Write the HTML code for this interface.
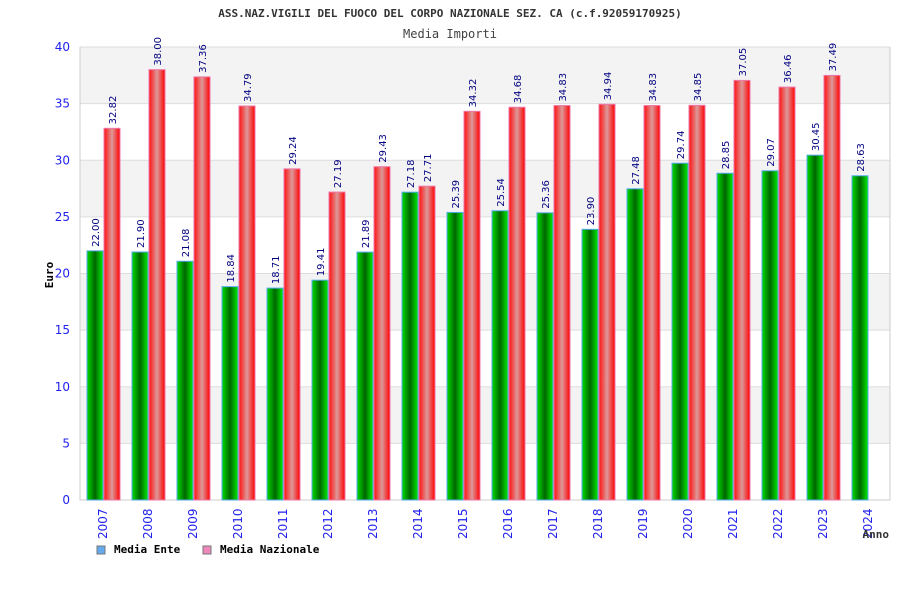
<!DOCTYPE html>
<html><head><meta charset="utf-8"><style>
body{margin:0;background:#fff;}
svg text{font-family:"DejaVu Sans Mono","Liberation Mono",monospace;}
svg text.s{font-family:"DejaVu Sans","Liberation Sans",sans-serif;}
</style></head><body>
<svg id="chart" width="900" height="600" xmlns="http://www.w3.org/2000/svg">
<defs>
<linearGradient id="gg" x1="0" x2="1" y1="0" y2="0">
<stop offset="0" stop-color="#00dd00"/><stop offset="0.5" stop-color="#006600"/><stop offset="1" stop-color="#00ee00"/></linearGradient>
<linearGradient id="rg" x1="0" x2="1" y1="0" y2="0">
<stop offset="0" stop-color="#ff1010"/><stop offset="0.5" stop-color="#dd9999"/><stop offset="1" stop-color="#ff0000"/></linearGradient>
</defs>
<text x="450" y="17" text-anchor="middle" font-size="11" font-weight="bold" fill="#333">ASS.NAZ.VIGILI DEL FUOCO DEL CORPO NAZIONALE SEZ. CA (c.f.92059170925)</text>
<text x="450" y="38" text-anchor="middle" font-size="12" fill="#444">Media Importi</text>
<g id="grid"></g>
<g id="bars"></g>
<text transform="translate(53,275) rotate(-90)" text-anchor="middle" font-size="11" font-weight="bold" fill="#000">Euro</text>
<text x="889" y="538" text-anchor="end" font-size="11" font-weight="bold" fill="#333">Anno</text>
<g>
<rect x="97" y="546" width="8" height="8" fill="#66aaee" stroke="#777"/>
<text x="114" y="553" font-size="11" font-weight="bold">Media Ente</text>
<rect x="203" y="546" width="8" height="8" fill="#ee88bb" stroke="#777"/>
<text x="220" y="553" font-size="11" font-weight="bold">Media Nazionale</text>
</g>
</svg>
<script>
const categories=["2007","2008","2009","2010","2011","2012","2013","2014","2015","2016","2017","2018","2019","2020","2021","2022","2023","2024"];
const enteValues=[22.00,21.90,21.08,18.84,18.71,19.41,21.89,27.18,25.39,25.54,25.36,23.90,27.48,29.74,28.85,29.07,30.45,28.63];
const nazValues=[32.82,38.00,37.36,34.79,29.24,27.19,29.43,27.71,34.32,34.68,34.83,34.94,34.83,34.85,37.05,36.46,37.49,null];
const yTicks=[0,5,10,15,20,25,30,35,40];
const NS="http://www.w3.org/2000/svg";
const L=80,R=890,T=47,B=500,yMax=40;
const gw=(R-L)/categories.length;
function y(v){return B-(v/yMax)*(B-T);}
function xg(i){return L+i*gw;}
function mk(tag,attrs,parent){const e=document.createElementNS(NS,tag);for(const k in attrs)e.setAttribute(k,attrs[k]);parent.appendChild(e);return e;}
const grid=document.getElementById('grid'),bars=document.getElementById('bars');
for(let i=0;i<yTicks.length-1;i++){
 if(i%2===1){const b=mk('rect',{x:L,y:y(yTicks[i+1]),width:R-L,height:y(yTicks[i])-y(yTicks[i+1]),fill:'#f3f3f3'},grid);
 }
}
yTicks.forEach(t=>{
 const l=mk('line',{x1:L,x2:R,y1:y(t),y2:y(t),stroke:'#ddd'},grid);
 
 const tx=mk('text',{class:'s',x:70,y:y(t)+4,'text-anchor':'end','font-size':'12',fill:'#2222ee'},grid);
 tx.textContent=t;
});
const ax=mk('path',{d:`M${L},${T}V${B}H${R}V${T}`,fill:'none',stroke:'#ccc'},grid);

function bar(x,v,fill,stroke,name){
 const r=mk('rect',{x:x,y:y(v),width:16,height:B-y(v),fill:fill,stroke:stroke,'stroke-width':1},bars);
 
 const t=mk('text',{class:'s',transform:`translate(${x+12},${y(v)-4}) rotate(-90)`,'font-size':'10',fill:'#000080'},bars);
 t.textContent=v.toFixed(2);
}
categories.forEach((c,i)=>{
 const x0=xg(i);
 bar(x0+7,enteValues[i],'url(#gg)','#55aaee','bar-ente-'+c);
 if(nazValues[i]!=null)bar(x0+24,nazValues[i],'url(#rg)','#ee77aa','bar-nazionale-'+c);
 const t=mk('text',{class:'s',transform:`translate(${x0+27},${539}) rotate(-90)`,'font-size':'12',fill:'#2222ee'},bars);
 t.textContent=c;
});
</script>
</body></html>
